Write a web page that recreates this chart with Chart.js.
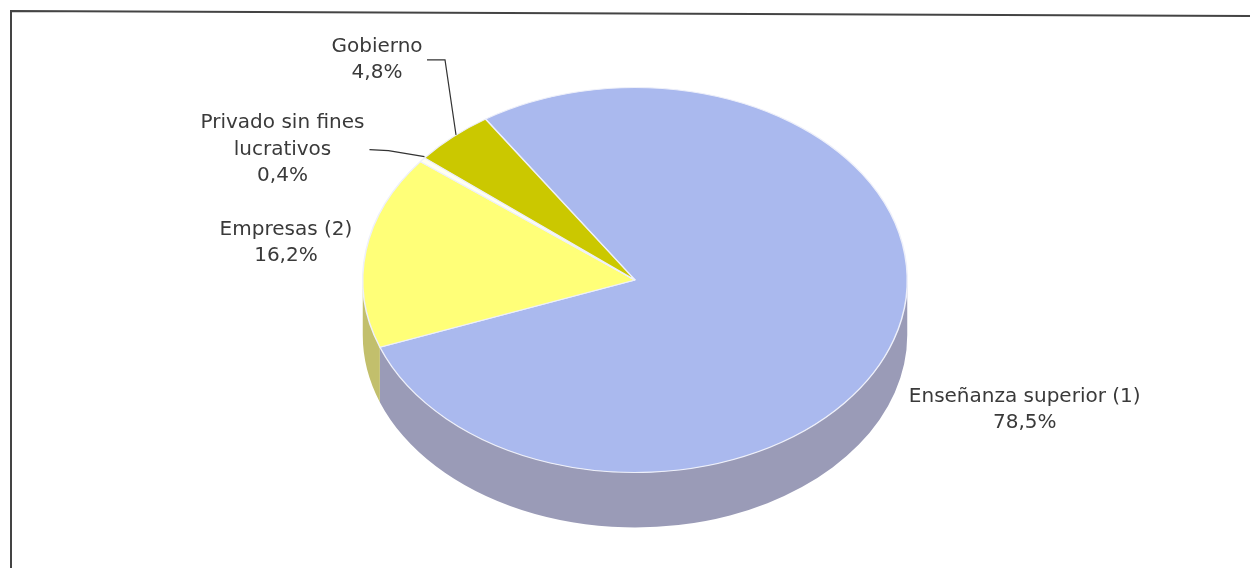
<!DOCTYPE html>
<html>
<head>
<meta charset="utf-8">
<title>Personal en I+D por sector</title>
<script src="https://cdn.jsdelivr.net/npm/chart.js@4.4.0/dist/chart.umd.min.js"></script>
<style>
  html, body { margin: 0; padding: 0; background: #ffffff; }
  #pie-chart { display: block; }
</style>
</head>
<body>
<canvas id="pie-chart" width="1250" height="568"></canvas>
<script>
//data//
const sectors = ['Enseñanza superior (1)', 'Empresas (2)', 'Privado sin fines lucrativos', 'Gobierno'];
const shares = [78.5, 16.2, 0.4, 4.8];
const labelLines = [
    ['Enseñanza superior (1)', '78,5%'],
    ['Empresas (2)', '16,2%'],
    ['Privado sin fines', 'lucrativos', '0,4%'],
    ['Gobierno', '4,8%']
];

//styles//
const topColors = ['#aab9ee', '#ffff78', '#fffff2', '#cbc800'];
const sideColors = ['#9a9bb7', '#c2bf6c', '#e6e6d0', '#a09e20'];
const tilt = 0.707;      // vertical squash of the pie
const depth = 55;        // thickness of the pie side
const labelFont = '20px "DejaVu Sans", Verdana, sans-serif';
const lineHeight = 26.5;
// label centre relative to the slice edge point
const labelOffsets = [[131, 70], [-80, -8], [-140, -10], [-76, -77]];
// leader lines relative to the slice edge point
const leaders = [null, null, [[2, -3], [-34, -9], [-53, -10]], [[3, -2], [-8, -77], [-26, -77]]];

function pieCenter(chart) {
    const arc = chart.getDatasetMeta(0).data[0];
    return { x: arc.x, y: arc.y, r: arc.outerRadius };
}

//3d look: side walls first, then squash the flat pie//
const tiltPlugin = {
    id: 'tilt',
    beforeDatasetsDraw(chart) {
        const ctx = chart.ctx;
        const c = pieCenter(chart);
        const ry = c.r * tilt;
        ctx.save();
        chart.getDatasetMeta(0).data.forEach((arc, i) => {
            for (let k = -2; k <= 2; k++) {
                const a = Math.max(arc.startAngle + k * 2 * Math.PI, 0);
                const b = Math.min(arc.endAngle + k * 2 * Math.PI, Math.PI);
                if (b <= a) continue;
                ctx.beginPath();
                ctx.ellipse(c.x, c.y, c.r, ry, 0, a, b);
                ctx.lineTo(c.x + c.r * Math.cos(b), c.y + depth + ry * Math.sin(b));
                ctx.ellipse(c.x, c.y + depth, c.r, ry, 0, b, a, true);
                ctx.closePath();
                ctx.fillStyle = sideColors[i];
                ctx.fill();
            }
        });
        ctx.translate(c.x, c.y);
        ctx.scale(1, tilt);
        ctx.translate(-c.x, -c.y);
    },
    afterDatasetsDraw(chart) {
        chart.ctx.restore();
    }
};

//labels with leader lines//
const labelPlugin = {
    id: 'sliceLabels',
    afterDraw(chart) {
        const ctx = chart.ctx;
        const c = pieCenter(chart);
        ctx.save();
        ctx.font = labelFont;
        ctx.fillStyle = '#3a3a3a';
        ctx.strokeStyle = '#333333';
        ctx.lineWidth = 1.2;
        ctx.textAlign = 'center';
        ctx.textBaseline = 'middle';
        chart.getDatasetMeta(0).data.forEach((arc, i) => {
            const mid = (arc.startAngle + arc.endAngle) / 2;
            const ex = c.x + c.r * Math.cos(mid);
            const ey = c.y + c.r * tilt * Math.sin(mid);
            if (leaders[i]) {
                ctx.beginPath();
                leaders[i].forEach((p, j) => {
                    if (j === 0) ctx.moveTo(ex + p[0], ey + p[1]);
                    else ctx.lineTo(ex + p[0], ey + p[1]);
                });
                ctx.stroke();
            }
            const lines = labelLines[i];
            const lx = ex + labelOffsets[i][0];
            const ly = ey + labelOffsets[i][1] - (lines.length - 1) * lineHeight / 2;
            lines.forEach((t, j) => ctx.fillText(t, lx, ly + j * lineHeight));
        });
        ctx.restore();
    }
};

//frame//
const framePlugin = {
    id: 'frame',
    afterDraw(chart) {
        const ctx = chart.ctx;
        ctx.save();
        ctx.strokeStyle = '#444444';
        ctx.lineWidth = 2;
        ctx.beginPath();
        ctx.moveTo(11, 568);
        ctx.lineTo(11, 11);
        ctx.lineTo(1250, 16);
        ctx.stroke();
        ctx.restore();
    }
};

new Chart(document.getElementById('pie-chart').getContext('2d'), {
    type: 'pie',
    data: {
        labels: sectors,
        datasets: [{
            data: shares,
            backgroundColor: topColors,
            borderColor: '#eef0fa',
            borderWidth: 1.5
        }]
    },
    options: {
        responsive: false,
        animation: false,
        rotation: -33.3,
        layout: { padding: { left: 362, right: 342, top: 7, bottom: 15 } },
        plugins: {
            legend: { display: false },
            tooltip: { enabled: false }
        }
    },
    plugins: [tiltPlugin, labelPlugin, framePlugin]
});
</script>
</body>
</html>
